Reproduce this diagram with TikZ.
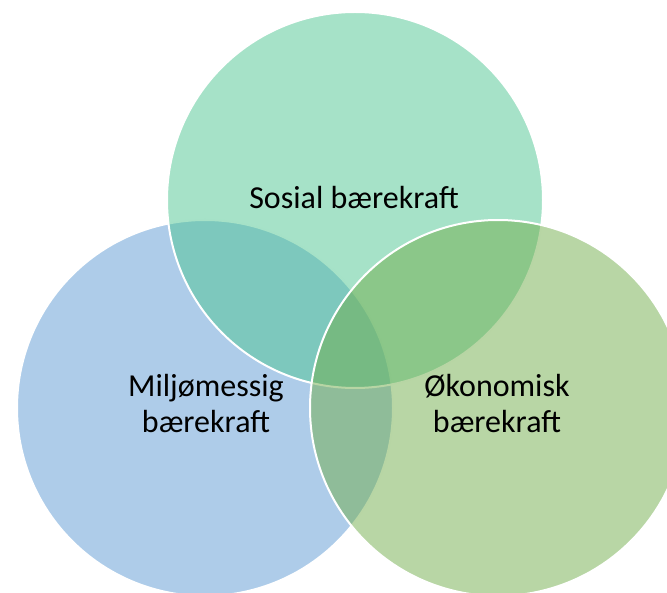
\documentclass[tikz,border=0pt]{standalone}
\usepackage{fontspec}
\setmainfont{Carlito}
\definecolor{envblue}{RGB}{93,153,211}
\definecolor{socgreen}{RGB}{77,197,145}
\definecolor{ecogreen}{RGB}{113,173,75}
\tikzset{
  venn/.style={draw=white, line width=2pt, fill opacity=0.5, draw opacity=1},
  lbl/.style={font=\fontsize{32}{36}\selectfont, text=black, align=center, inner sep=0pt, anchor=base}
}
\begin{document}
\begin{tikzpicture}[x=1pt,y=-1pt]
\useasboundingbox (0,0) rectangle (667,593);
\begin{scope}
\clip (0,0) rectangle (667,593);
\path[venn, fill=envblue] (205,408) circle[radius=188];
\path[venn, fill=socgreen] (355,200) circle[radius=188];
\path[venn, fill=ecogreen] (498,408) circle[radius=188];
\end{scope}
\node[lbl] (soc) at (354,209) {Sosial bærekraft};
\node[lbl] (env) at (206,433) {Miljømessig\\bærekraft};
\node[lbl] (eco) at (497,433) {Økonomisk\\bærekraft};
\end{tikzpicture}
\end{document}
